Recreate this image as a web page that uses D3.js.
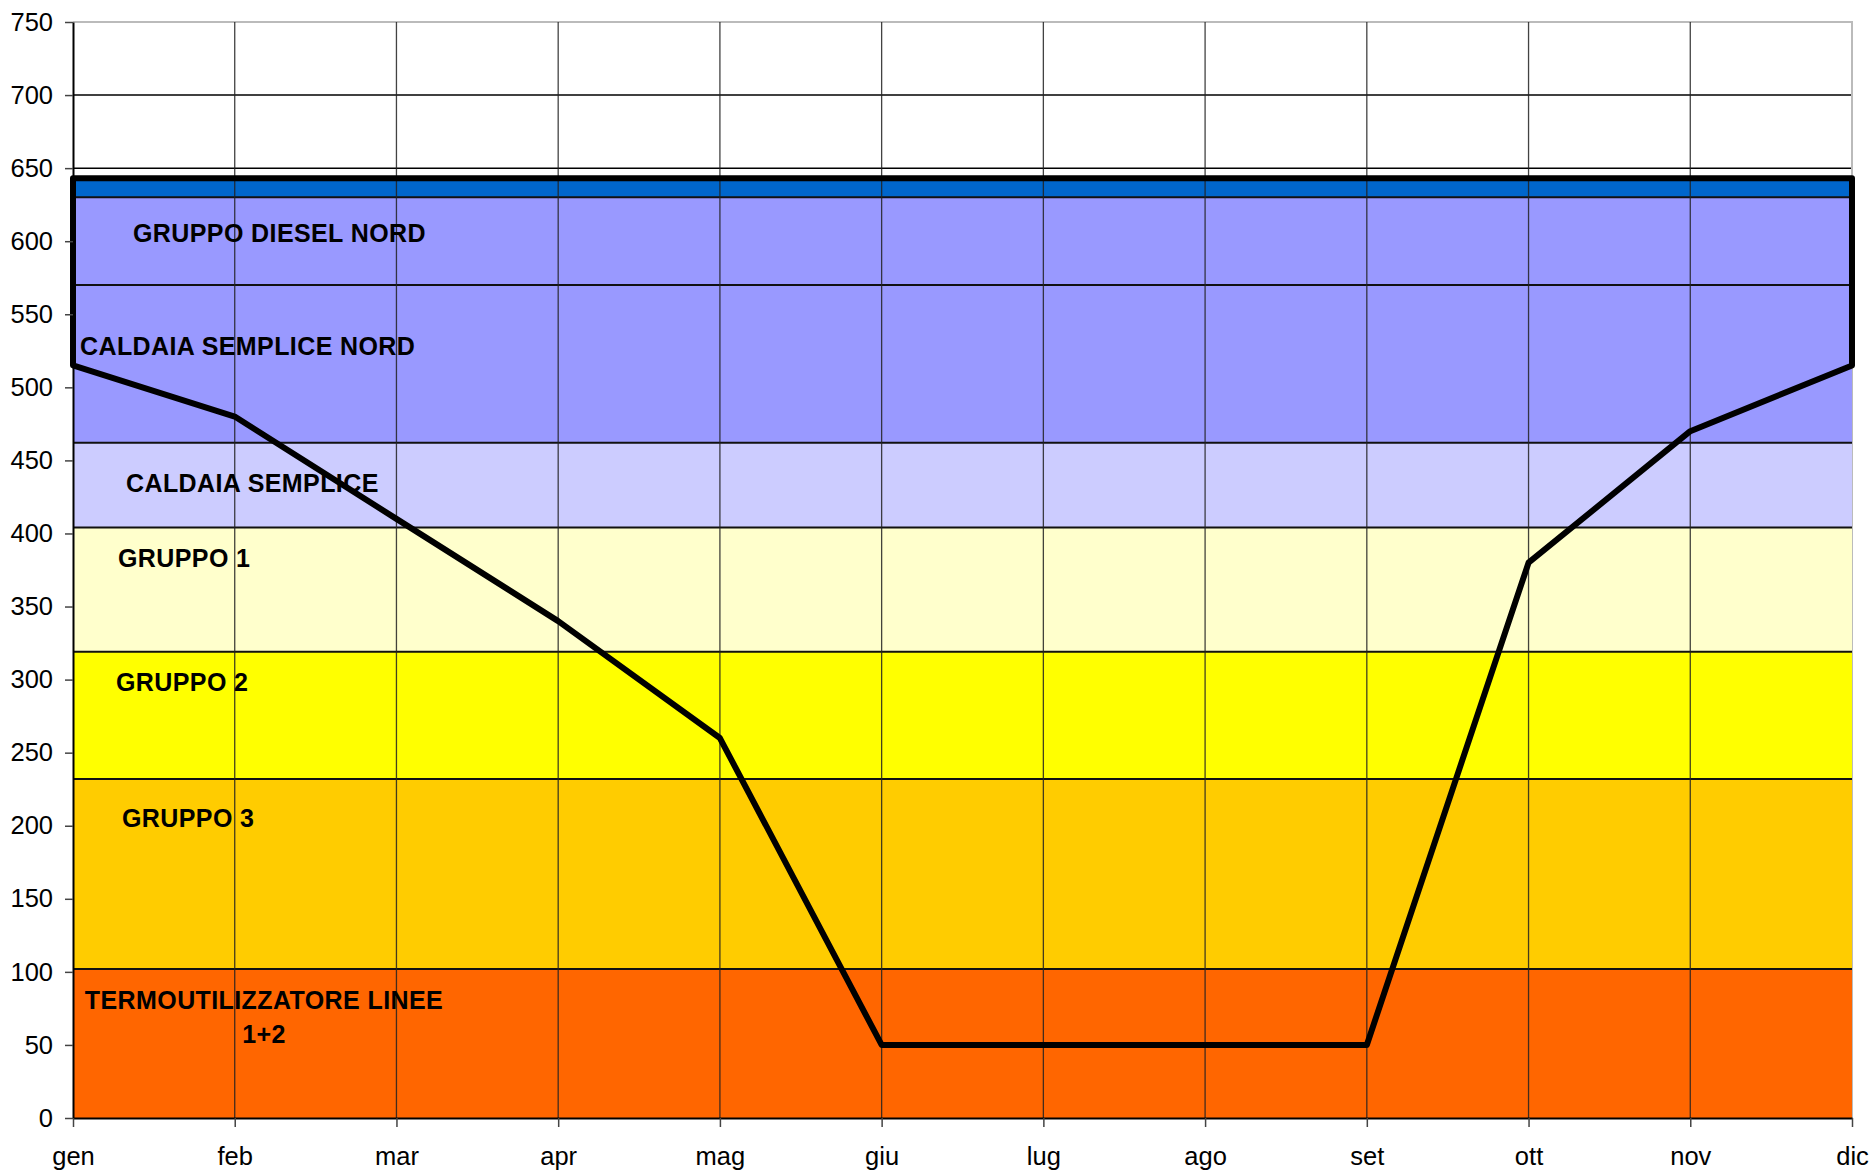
<!DOCTYPE html>
<html>
<head>
<meta charset="utf-8">
<script src="https://cdn.jsdelivr.net/npm/d3@7"></script>
<style>
  html, body { margin: 0; padding: 0; background: #fff; }
  svg { display: block; font-family: "Liberation Sans", Arial, sans-serif; }
</style>
</head>
<body>
<svg id="chart" width="1875" height="1171"></svg>
<script>
// ---- Data ----
const months = ["gen", "feb", "mar", "apr", "mag", "giu", "lug", "ago", "set", "ott", "nov", "dic"];
const loadValues = [515, 480, 410, 340, 260, 50, 50, 50, 50, 380, 470, 515];
const capacity = 643;
const bandNames = ["TERMOUTILIZZATORE LINEE 1+2", "GRUPPO 3", "GRUPPO 2", "GRUPPO 1",
                   "CALDAIA SEMPLICE", "CALDAIA SEMPLICE NORD", "GRUPPO DIESEL NORD", "TOP"];
const bandTops = [102, 232, 319, 404, 462, 570, 630, 643];
const bandColors = ["#FF6600", "#FFCC00", "#FFFF00", "#FFFFCC", "#CCCCFF", "#9999FF", "#9999FF", "#0066CC"];
const yTicks = [0, 50, 100, 150, 200, 250, 300, 350, 400, 450, 500, 550, 600, 650, 700, 750];

// label lines: text, value (y), offset from left of plot in px, anchor
const labelLines = [
  { text: "GRUPPO DIESEL NORD", v: 599.5, dx: 60, anchor: "start" },
  { text: "CALDAIA SEMPLICE NORD", v: 522, dx: 7, anchor: "start" },
  { text: "CALDAIA SEMPLICE", v: 428.5, dx: 53, anchor: "start" },
  { text: "GRUPPO 1", v: 377, dx: 45, anchor: "start" },
  { text: "GRUPPO 2", v: 292.3, dx: 43, anchor: "start" },
  { text: "GRUPPO 3", v: 199, dx: 49, anchor: "start" },
  { text: "TERMOUTILIZZATORE LINEE", v: 74.5, dx: 191, anchor: "middle" },
  { text: "1+2", v: 51.3, dx: 191, anchor: "middle" }
];

// ---- Layout ----
const pLeft = 73, pRight = 1852, pTop = 22, pBottom = 1118;
const svg = d3.select("#chart");
const x = d3.scalePoint().domain(months).range([pLeft, pRight]);
const y = d3.scaleLinear().domain([0, 750]).range([pBottom, pTop]);

// horizontal gridlines
svg.append("g").selectAll("line").data(yTicks.filter(d => d > 0 && d < 750)).join("line")
  .attr("x1", pLeft).attr("x2", pRight)
  .attr("y1", d => y(d)).attr("y2", d => y(d))
  .attr("stroke", "#000").attr("stroke-width", 1.5);

// plot border (top/right) gray
svg.append("path")
  .attr("d", `M${pLeft},${y(750)}H${pRight}V${pBottom}`)
  .attr("fill", "none").attr("stroke", "#bbb").attr("stroke-width", 2);

// bands
const area = d3.area().x(d => x(d.m)).y0(d => y(d.lo)).y1(d => y(d.hi));
const bandData = bandTops.map((t, i) => {
  const lo = i === 0 ? 0 : bandTops[i - 1];
  return months.map(m => ({ m, lo, hi: t }));
});
svg.append("g").selectAll("path").data(bandData).join("path")
  .attr("d", area)
  .attr("fill", (d, i) => bandColors[i]);

// band borders
svg.append("g").selectAll("line").data(bandTops.slice(0, -1)).join("line")
  .attr("x1", pLeft).attr("x2", pRight)
  .attr("y1", d => y(d)).attr("y2", d => y(d))
  .attr("stroke", "#111").attr("stroke-width", 2);

// vertical gridlines
svg.append("g").selectAll("line").data(months.slice(1, -1)).join("line")
  .attr("x1", d => x(d)).attr("x2", d => x(d))
  .attr("y1", y(750)).attr("y2", pBottom)
  .attr("stroke", "#222").attr("stroke-width", 1.3).attr("opacity", 0.85);

// load line (closed with capacity)
const pts = [[months[0], capacity]]
  .concat(months.map((m, i) => [m, loadValues[i]]))
  .concat([[months[months.length - 1], capacity]]);
svg.append("path")
  .attr("d", d3.line().x(d => x(d[0])).y(d => y(d[1]))(pts) + "Z")
  .attr("fill", "none").attr("stroke", "#000").attr("stroke-width", 6)
  .attr("stroke-linejoin", "round");

// band labels
svg.append("g").selectAll("text").data(labelLines).join("text")
  .attr("x", d => pLeft + d.dx).attr("y", d => y(d.v))
  .attr("text-anchor", d => d.anchor)
  .attr("font-size", 25).attr("font-weight", "bold").attr("fill", "#000")
  .attr("letter-spacing", 0.4)
  .text(d => d.text);

// y axis
const yAxis = svg.append("g").attr("transform", `translate(${pLeft},0)`)
  .call(d3.axisLeft(y).tickValues(yTicks).tickSize(8).tickPadding(12).tickSizeOuter(0));
yAxis.select(".domain").attr("stroke", "#000").attr("stroke-width", 2);
yAxis.selectAll(".tick line").attr("stroke", "#444").attr("stroke-width", 1.5);
yAxis.selectAll("text").attr("font-size", 25.5).attr("font-family", "Liberation Sans, Arial, sans-serif").attr("fill", "#000");

// x axis
const xAxis = svg.append("g").attr("transform", `translate(0,${pBottom})`)
  .call(d3.axisBottom(x).tickSize(9).tickPadding(20).tickSizeOuter(0));
xAxis.select(".domain").attr("stroke", "#000").attr("stroke-width", 2);
xAxis.selectAll(".tick line").attr("stroke", "#444").attr("stroke-width", 1.5);
xAxis.selectAll("text").attr("font-size", 25.5).attr("font-family", "Liberation Sans, Arial, sans-serif").attr("fill", "#000");
</script>
</body>
</html>
